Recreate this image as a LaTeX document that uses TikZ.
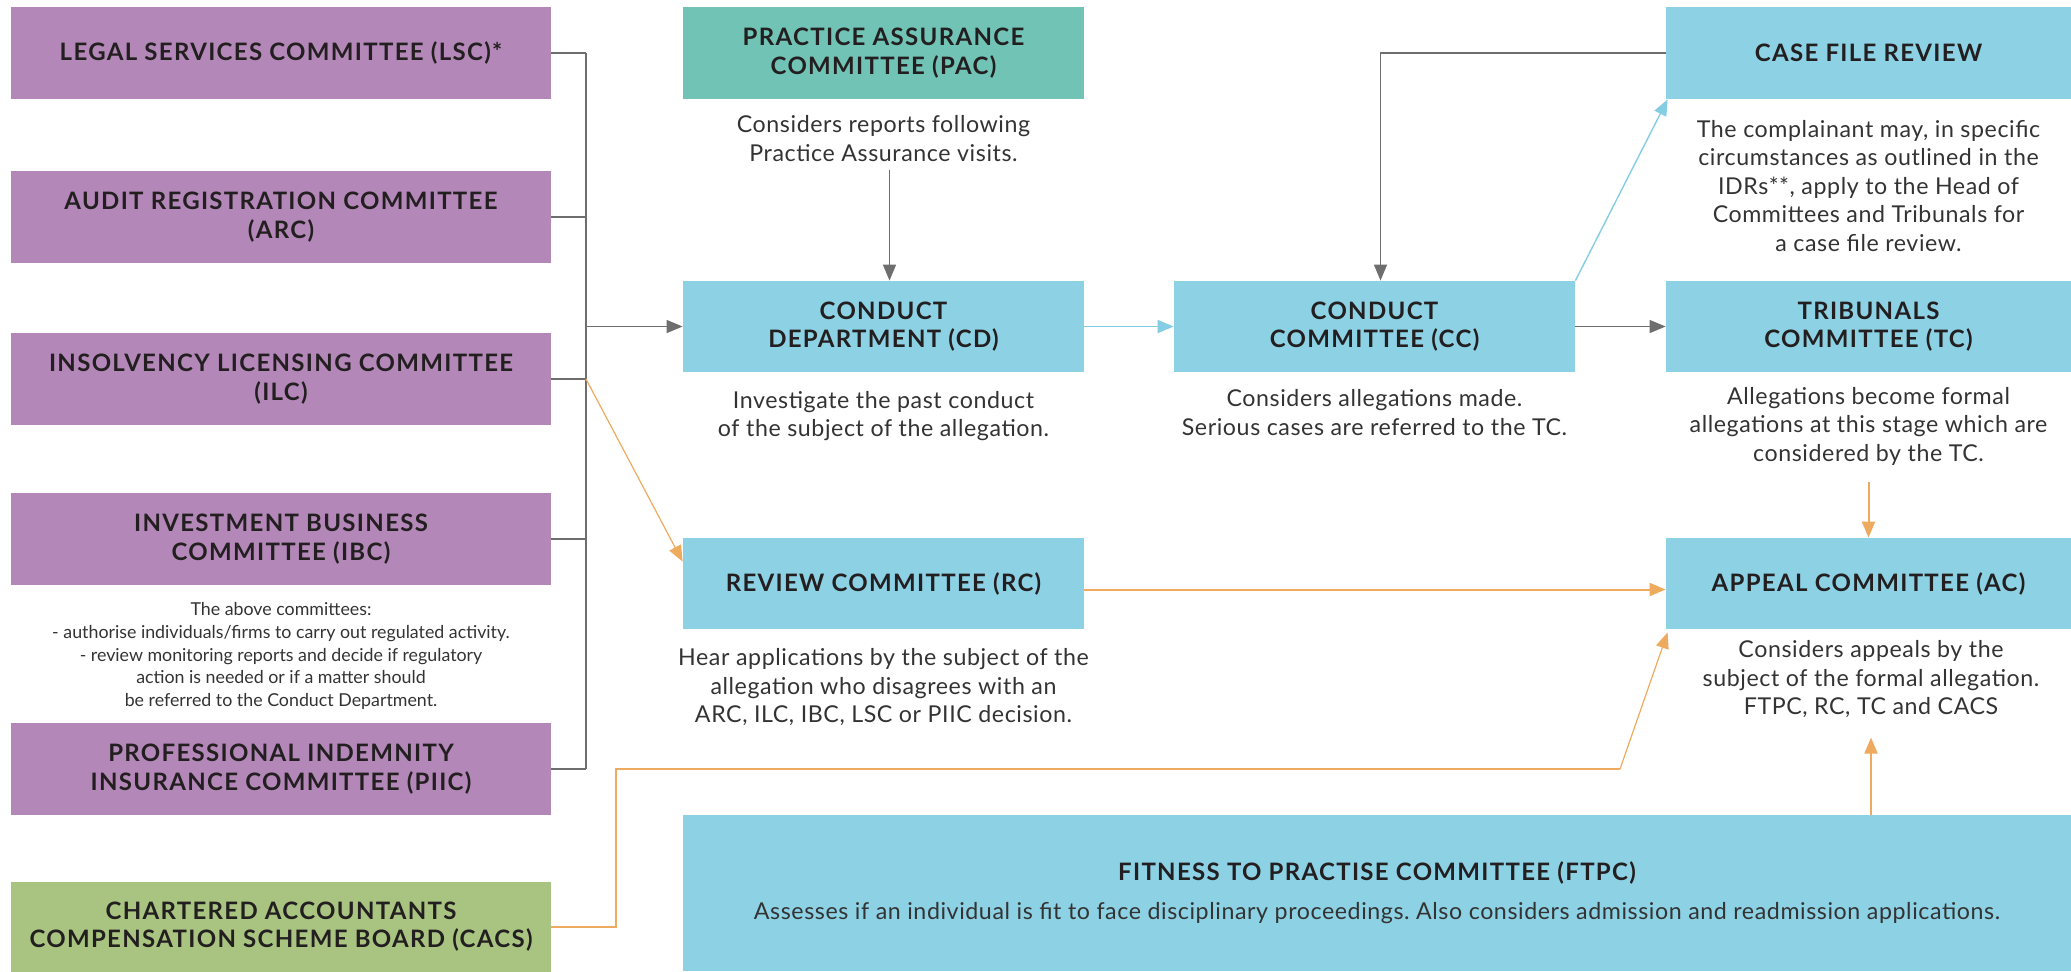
\documentclass[tikz,border=0pt]{standalone}
\usepackage{fontspec}
\setmainfont{Lato}
\newfontfamily\ttlfont[LetterSpace=5.5]{Lato}
\newfontfamily\dscfont[LetterSpace=2.5]{Lato}
\usetikzlibrary{arrows.meta,calc}
\definecolor{cpurple}{HTML}{B387B8}
\definecolor{cteal}{HTML}{70C3B5}
\definecolor{cblue}{HTML}{8CD1E4}
\definecolor{cgreen}{HTML}{A8C480}
\definecolor{cgray}{HTML}{6E6E6E}
\definecolor{corange}{HTML}{EEAA5E}
\definecolor{clblue}{HTML}{84CDE2}
\definecolor{ctext}{HTML}{231F20}
\definecolor{cdesc}{HTML}{333333}
\frenchspacing
\begin{document}
\begin{tikzpicture}[x=0.5pt,y=-0.5pt,
  box/.style={rectangle, inner sep=0pt, align=center, text=ctext,
    font=\ttlfont\bfseries\fontsize{12}{14.25}\selectfont},
  lbox/.style={box, minimum width=270pt, minimum height=46pt},
  pbox/.style={lbox, fill=cpurple},
  mbox/.style={box, fill=cblue, minimum width=200.5pt, minimum height=45.5pt},
  rbox/.style={box, fill=cblue, minimum width=202.5pt, minimum height=45.5pt},
  desc/.style={align=center, inner sep=0pt, text=cdesc,
    font=\dscfont\fontsize{11.6}{14.25}\selectfont},
  note/.style={align=center, inner sep=0pt, text=cdesc,
    font=\fontsize{8.9}{11.35}\selectfont},
  gline/.style={draw=cgray, line width=0.7pt},
  oline/.style={draw=corange, line width=1pt},
  bline/.style={draw=clblue, line width=0.9pt},
  >={Triangle[length=8pt,width=6.5pt]}
]
\useasboundingbox (0,0) rectangle (2071,971);

% left column
\node[pbox] (LSC) at (281,53) {LEGAL SERVICES COMMITTEE (LSC)*};
\node[pbox] (ARC) at (281,217) {AUDIT REGISTRATION COMMITTEE\\(ARC)};
\node[pbox] (ILC) at (281,379) {INSOLVENCY LICENSING COMMITTEE\\(ILC)};
\node[pbox] (IBC) at (281,539) {INVESTMENT BUSINESS\\COMMITTEE (IBC)};
\node[note] (NOTE) at (281,656) {The above committees:\\- authorise individuals/firms to carry out regulated activity.\\- review monitoring reports and decide if regulatory\\action is needed or if a matter should\\be referred to the Conduct Department.};
\node[pbox] (PIIC) at (281,769) {PROFESSIONAL INDEMNITY\\INSURANCE COMMITTEE (PIIC)};
\node[lbox, fill=cgreen, minimum height=45pt] (CACS) at (281,926.5) {CHARTERED ACCOUNTANTS\\COMPENSATION SCHEME BOARD (CACS)};

% middle column
\node[mbox, fill=cteal, minimum height=46pt] (PAC) at (883.5,53) {PRACTICE ASSURANCE\\COMMITTEE (PAC)};
\node[desc] (PACd) at (883.5,138.5) {Considers reports following\\Practice Assurance visits.};
\node[mbox] (CD) at (883.5,326.5) {CONDUCT\\DEPARTMENT (CD)};
\node[desc] (CDd) at (883.5,416) {Investigate the past conduct\\of the subject of the allegation.};
\node[mbox] (RC) at (883.5,583.5) {REVIEW COMMITTEE (RC)};
\node[desc] (RCd) at (883.5,687.5) {Hear applications by the subject of the\\allegation who disagrees with an\\ARC, ILC, IBC, LSC or PIIC decision.};

\node[mbox] (CC) at (1374.5,326.5) {CONDUCT\\COMMITTEE (CC)};
\node[desc] (CCd) at (1374.5,412.5) {Considers allegations made.\\Serious cases are referred to the TC.};

% right column
\node[rbox, minimum height=46pt] (CFR) at (1868.5,53) {CASE FILE REVIEW};
\node[desc] (CFRd) at (1868.5,186) {The complainant may, in specific\\circumstances as outlined in the\\IDRs**, apply to the Head of\\Committees and Tribunals for\\a case file review.};
\node[rbox] (TC) at (1868.5,326.5) {TRIBUNALS\\COMMITTEE (TC)};
\node[desc] (TCd) at (1868.5,426) {Allegations become formal\\allegations at this stage which are\\considered by the TC.};
\node[rbox] (AC) at (1868.5,583.5) {APPEAL COMMITTEE (AC)};
\node[desc] (ACd) at (1871,679.5) {Considers appeals by the\\subject of the formal allegation.\\FTPC, RC, TC and CACS};

\node[box, fill=cblue, minimum width=694pt, minimum height=78pt] (FTPC) at (1377,893)
  {FITNESS TO PRACTISE COMMITTEE (FTPC)\\[5.25pt]{\dscfont\mdseries\color{cdesc}\fontsize{11.6}{14.25}\selectfont Assesses if an individual is fit to face disciplinary proceedings. Also considers admission and readmission applications.}};

% bus on the left
\coordinate (busT) at (586,53);
\coordinate (busB) at (586,769);
\draw[gline] (busT) -- (busB);
\foreach \n in {LSC,ARC,ILC,IBC,PIIC} \draw[gline] (\n.east) -- (\n.east -| busT);
\draw[gline,->] (CD.west -| busT) -- (CD.west);
\draw[draw=corange, line width=0.6pt, ->] (ILC.east -| busT) -- ($(RC.north west)+(0,24)$);

% middle arrows
\draw[gline,->] ([xshift=3pt,yshift=-4pt]PACd.south) -- ([xshift=3pt]CD.north);
\draw[bline,->] (CD.east) -- (CC.west);
\draw[gline,->] (CC.east) -- (TC.west);
\draw[gline,->] (CFR.west) -| ([xshift=3pt]CC.north);
\draw[draw=clblue, line width=0.7pt, ->] (CC.north east) -- ([xshift=1pt]CFR.south west);

% orange arrows
\draw[oline,->] ([yshift=-8.5pt]TCd.south) -- (AC.north);
\draw[oline,->] ([yshift=-3pt]RC.east) -- ([yshift=-3pt]AC.west);
\coordinate (k1) at (616,769);
\coordinate (k2) at (1620,769);
\draw[oline] (CACS.east) -| (k1) -- (k2);
\draw[draw=corange, line width=0.6pt, ->] (k2) -- ($(AC.south west)+(2,3)$);
\draw[oline,->] (FTPC.north -| ACd.south) -- ([yshift=-9.5pt]ACd.south);
\end{tikzpicture}
\end{document}
